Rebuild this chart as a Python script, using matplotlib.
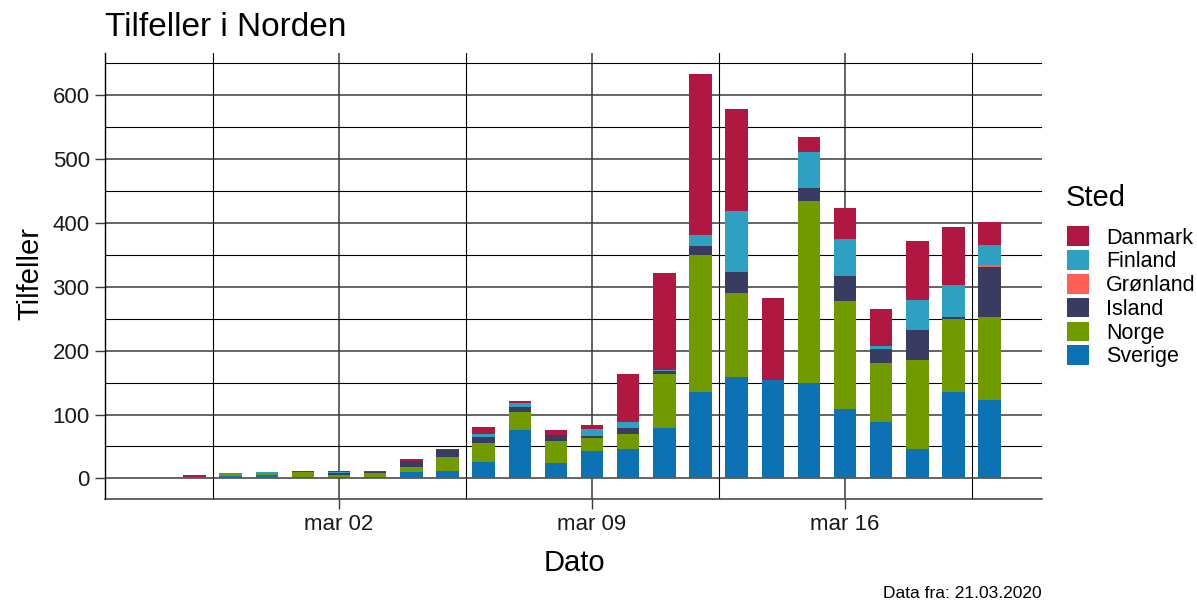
import matplotlib
matplotlib.use("Agg")
from matplotlib import pyplot as plt
from matplotlib.patches import Patch
import matplotlib.dates as mdates
import numpy as np
import pandas as pd

plt.rcParams['font.family'] = ['Liberation Sans', 'DejaVu Sans']

# dates (one bar per day)
dates = ["2020-02-27", "2020-02-28", "2020-02-29", "2020-03-01", "2020-03-02",
         "2020-03-03", "2020-03-04", "2020-03-05", "2020-03-06", "2020-03-07",
         "2020-03-08", "2020-03-09", "2020-03-10", "2020-03-11", "2020-03-12",
         "2020-03-13", "2020-03-14", "2020-03-15", "2020-03-16", "2020-03-17",
         "2020-03-18", "2020-03-19", "2020-03-20"]

# new cases per country
sverige  = [3, 4, 5, 2, 3, 2, 10, 12, 26, 76, 24, 43, 46, 79, 136, 158, 154, 149, 108, 89, 46, 135, 122]
norge    = [0, 4, 3, 8, 2, 6, 8, 22, 29, 28, 34, 21, 23, 84, 213, 132, 0, 285, 170, 92, 139, 114, 131]
island   = [0, 0, 0, 0, 3, 2, 9, 10, 10, 8, 10, 3, 10, 5, 14, 33, 0, 21, 39, 22, 48, 3, 78]
gronland = [0, 0, 0, 0, 0, 0, 0, 0, 0, 0, 0, 0, 0, 0, 0, 0, 0, 0, 0, 0, 0, 0, 3]
finland  = [0, 0, 2, 0, 2, 0, 0, 0, 5, 6, 0, 11, 10, 1, 18, 95, 0, 56, 58, 5, 46, 51, 31]
danmark  = [2, 0, 0, 1, 1, 1, 4, 2, 10, 3, 8, 6, 75, 152, 252, 160, 129, 23, 48, 57, 92, 90, 36]

# bottom -> top stacking order
series = [("Sverige", sverige, "#0D72B4"),
          ("Norge", norge, "#709A00"),
          ("Island", island, "#393C60"),
          ("Grønland", gronland, "#FF5F55"),
          ("Finland", finland, "#2EA1C3"),
          ("Danmark", danmark, "#B01842")]

x = mdates.date2num(pd.to_datetime(dates))

fig = plt.figure(figsize=(11.97, 6.02), dpi=100)
ax = fig.add_axes([105/1197, 103.3/602, (1042-105)/1197, (548.7-103.3)/602])

bottom = np.zeros(len(dates))
for name, vals, col in series:
    vals = np.array(vals, dtype=float)
    ax.bar(x, vals, width=0.62, bottom=bottom, color=col, linewidth=0, zorder=3)
    bottom += vals

# axes limits
mar02 = mdates.date2num(pd.Timestamp("2020-03-02"))
ax.set_xlim(mar02 - 6.475, mar02 + 19.45)
ax.set_ylim(-31.7, 665.2)

# ticks / grid
ax.set_xticks(mdates.date2num(pd.to_datetime(["2020-03-02", "2020-03-09", "2020-03-16"])))
ax.set_xticklabels(["mar 02", "mar 09", "mar 16"])
ax.set_xticks(mdates.date2num(pd.to_datetime(["2020-02-27 12:00", "2020-03-05 12:00",
                                              "2020-03-12 12:00", "2020-03-19 12:00"])), minor=True)
ax.set_yticks([0, 100, 200, 300, 400, 500, 600])
ax.set_yticks([50, 150, 250, 350, 450, 550, 650], minor=True)

ax.grid(which="major", color="#3a3a3a", linewidth=1.1, zorder=0)
ax.grid(which="minor", color="black", linewidth=0.8, zorder=0)
ax.set_axisbelow(True)

ax.tick_params(which="major", length=7, width=1.0, color="#3a3a3a", labelsize=16,
               labelcolor="#1a1a1a", pad=4)
ax.tick_params(which="minor", length=0)

for s in ["top", "right"]:
    ax.spines[s].set_visible(False)
ax.spines["left"].set_color("black")
ax.spines["bottom"].set_color("#3a3a3a")
ax.spines["left"].set_linewidth(1.0)
ax.spines["bottom"].set_linewidth(1.1)

# texts
fig.text(105/1197, 1 - 28/602, "Tilfeller i Norden", fontsize=24, va="center", ha="left")
fig.text(30/1197, 1 - 274/602, "Tilfeller", fontsize=21, rotation=90, va="center", ha="center")
fig.text(574/1197, 1 - 563/602, "Dato", fontsize=21, va="center", ha="center")
fig.text(1042/1197, 1 - 594/602, "Data fra: 21.03.2020", fontsize=12.5, va="center", ha="right")

# legend
fig.text(1066/1197, 1 - 198/602, "Sted", fontsize=21, va="center", ha="left")
handles = [Patch(facecolor=col, label=name) for name, vals, col in reversed(series)]
leg = fig.legend(handles=handles, loc="upper left",
                 bbox_to_anchor=(1067/1197, 1 - 226.5/602), frameon=False,
                 fontsize=15.5, handlelength=1.02, handleheight=1.02,
                 handletextpad=0.8, labelspacing=0.075, borderaxespad=0, borderpad=0)

fig.savefig("out.png", dpi=100)
